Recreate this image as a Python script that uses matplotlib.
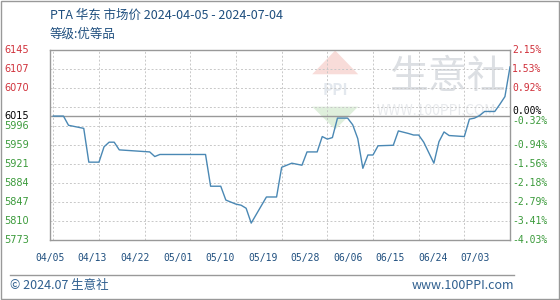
import numpy as np
import pandas as pd
import matplotlib
matplotlib.use("Agg")
import matplotlib.pyplot as plt
import matplotlib.transforms as mtransforms
from matplotlib.patches import Polygon

plt.rcParams['font.family'] = ['Noto Sans CJK SC', 'DejaVu Sans']

# PTA East China market price
dates = ["2024-04-05", "2024-04-07", "2024-04-08", "2024-04-11", "2024-04-12",
         "2024-04-14", "2024-04-15", "2024-04-16", "2024-04-17", "2024-04-18",
         "2024-04-24", "2024-04-25", "2024-04-26", "2024-05-05", "2024-05-06",
         "2024-05-08", "2024-05-09", "2024-05-11", "2024-05-12", "2024-05-13",
         "2024-05-14", "2024-05-17", "2024-05-19", "2024-05-20", "2024-05-22",
         "2024-05-24", "2024-05-25", "2024-05-27", "2024-05-28", "2024-05-29",
         "2024-05-30", "2024-05-31", "2024-06-02", "2024-06-03", "2024-06-04",
         "2024-06-05", "2024-06-06", "2024-06-07", "2024-06-08", "2024-06-11",
         "2024-06-12", "2024-06-14", "2024-06-15", "2024-06-16", "2024-06-17",
         "2024-06-19", "2024-06-20", "2024-06-21", "2024-06-22", "2024-06-25",
         "2024-06-26", "2024-06-27", "2024-06-28", "2024-06-29", "2024-07-01",
         "2024-07-02", "2024-07-03", "2024-07-04"]
prices = [6015, 6015, 5997, 5991, 5925,
          5925, 5955, 5964, 5964, 5949,
          5945, 5936, 5940, 5940, 5878,
          5878, 5851, 5843, 5841, 5835,
          5806, 5857, 5857, 5915, 5923,
          5919, 5945, 5945, 5975, 5970,
          5973, 6011, 6011, 5998, 5971,
          5913, 5939, 5939, 5957, 5958,
          5986, 5981, 5978, 5978, 5964,
          5923, 5965, 5984, 5977, 5975,
          6009, 6011, 6016, 6024, 6024,
          6038, 6053, 6111]

base_price = 6015
y_min, y_max = 5773, 6145
# axis labels as printed (the 7th gridline from the top has no label)
price_labels = ["6145", "6107", "6070", "", "5996", "5959",
                "5921", "5884", "5847", "5810", "5773"]
pct_labels = ["2.15%", "1.53%", "0.92%", "", "-0.32%", "-0.94%",
              "-1.56%", "-2.18%", "-2.79%", "-3.41%", "-4.03%"]
x_labels = ["04/05", "04/13", "04/22", "05/01", "05/10", "05/19",
            "05/28", "06/06", "06/15", "06/24", "07/03"]

start = pd.Timestamp("2024-04-05")
days = (pd.to_datetime(dates) - start).days.values
n_days = (pd.Timestamp("2024-07-04") - start).days

RED = "#d0303a"
GREEN = "#3a9a3a"

fig = plt.figure(figsize=(5.6, 3.0), dpi=100)
ax = fig.add_axes([50 / 560, 60 / 300, 460 / 560, 190.5 / 300])

levels = np.linspace(y_max, y_min, 11)
ax.set_ylim(y_min, y_max)
ax.set_xlim(0, n_days)

for lv in levels:
    ax.axhline(lv, color="#c8c8c8", lw=0.7, ls=(0, (2, 2)), zorder=1)
for d in np.linspace(0, n_days, 11):
    ax.axvline(d, color="#c8c8c8", lw=0.7, ls=(0, (2, 2)), zorder=1)
ax.axhline(base_price, color="#999999", lw=1.0, zorder=2)

# faint watermark
ax.add_patch(Polygon([[0.57, 0.87], [0.62, 0.995], [0.67, 0.87]], closed=True,
                     transform=ax.transAxes, color="#f8dcd9", lw=0, zorder=0))
ax.add_patch(Polygon([[0.57, 0.70], [0.62, 0.58], [0.67, 0.70]], closed=True,
                     transform=ax.transAxes, color="#dfefdc", lw=0, zorder=0))
ax.text(0.62, 0.785, "PPI", transform=ax.transAxes, ha="center", va="center",
        fontsize=11, color="#e3e8ee", fontweight="bold", zorder=0)
ax.text(0.865, 0.855, "生意社", transform=ax.transAxes, ha="center", va="center",
        fontsize=28, color="#dcdfe3", zorder=0)
ax.text(0.84, 0.675, "WWW.100PPI.COM", transform=ax.transAxes, ha="center",
        va="center", fontsize=10, color="#e8eaed", zorder=0)

ax.plot(days, prices, color="#4a88b4", lw=1.0, zorder=3)

for s in ax.spines.values():
    s.set_color("#999999")
    s.set_linewidth(1.0)

ax.set_yticks([])
ax.set_xticks(np.linspace(-0.65, 83.2, 11))
ax.set_xticklabels(x_labels, family="DejaVu Sans Mono", fontsize=7, color="#1f4f7f")
ax.tick_params(axis="x", length=0, pad=9)

# left price labels and right percent labels
left_tr = mtransforms.blended_transform_factory(fig.transFigure, ax.transData)
right_tr = mtransforms.blended_transform_factory(ax.transAxes, ax.transData)
entries = [(lv, pl, pc) for lv, pl, pc in zip(levels, price_labels, pct_labels) if pl]
entries.append((base_price, "6015", "0.00%"))
for lv, pl, pc in entries:
    if lv == base_price:
        c = "black"
    elif lv > base_price:
        c = RED
    else:
        c = GREEN
    ax.text(4 / 560, lv, pl, transform=left_tr, ha="left", va="center",
            fontsize=7, color=c, family="DejaVu Sans")
    off = 5 if pc in ("0.00%", "-0.32%") else 0
    tr = right_tr + mtransforms.ScaledTranslation(0, off / 100, fig.dpi_scale_trans)
    ax.text(1.005, lv, pc, transform=tr, ha="left", va="center",
            fontsize=7, color=c, family="DejaVu Sans Mono")

fig.text(50 / 560, 1 - 15 / 300, "PTA 华东 市场价 2024-04-05 - 2024-07-04",
         fontsize=9, color="#1f4f7f", ha="left", va="center")
fig.text(50 / 560, 1 - 34 / 300, "等级:优等品", fontsize=9, color="#1f4f7f",
         ha="left", va="center")

fig.add_artist(plt.Line2D([10 / 560, 514 / 560], [1 - 275 / 300] * 2,
                          transform=fig.transFigure, color="#999999", lw=1.0))
fig.text(10 / 560, 1 - 285.5 / 300, "© 2024.07 生意社", fontsize=9,
         color="#2f5f8f", ha="left", va="center")
fig.text(514 / 560, 1 - 285.5 / 300, "www.100PPI.com", fontsize=9,
         color="#2f5f8f", ha="right", va="center")
fig.add_artist(plt.Rectangle((0.001, 0.002), 0.997, 0.995, transform=fig.transFigure,
                             fill=False, edgecolor="#999999", lw=1.0))

fig.savefig("out.png", dpi=100)
